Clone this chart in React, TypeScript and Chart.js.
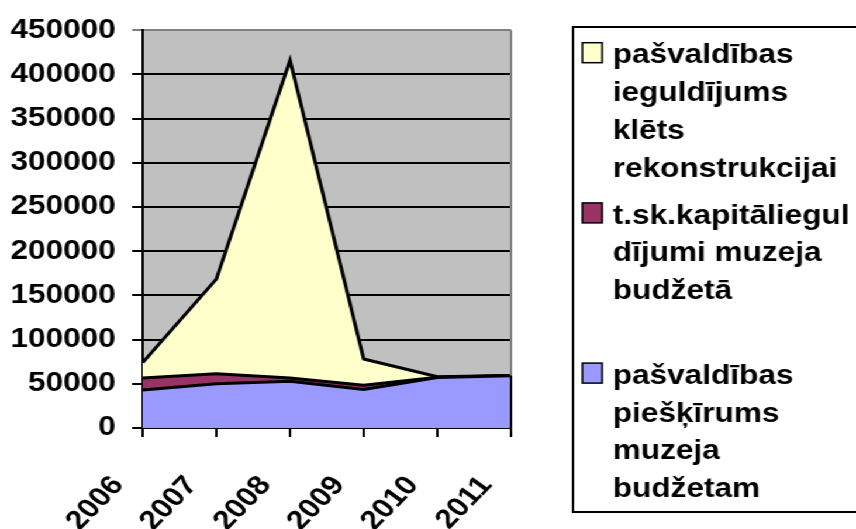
import React, { useEffect, useRef } from 'react';
import { Chart, registerables } from 'chart.js';

Chart.register(...registerables);

// ---- data ----
const years = ['2006', '2007', '2008', '2009', '2010', '2011'];
const municipalAllocation = [43000, 50000, 53000, 43500, 57000, 59000];
const capitalInvestment = [13500, 11500, 3500, 5000, 500, 500];
const barnReconstruction = [17500, 107000, 359500, 29500, 500, 0];
const yMax = 450000;
const yStep = 50000;

const labelAllocation = ['pašvaldības', 'piešķīrums', 'muzeja', 'budžetam'];
const labelCapital = ['t.sk.kapitāliegul', 'dījumi muzeja', 'budžetā', ''];
const labelBarn = ['pašvaldības', 'ieguldījums', 'klēts', 'rekonstrukcijai'];

const colAllocation = '#9999FF';
const colCapital = '#993366';
const colBarn = '#FFFFCC';
const plotBg = '#C0C0C0';

const FONT = '"Liberation Sans", Arial, Helvetica, sans-serif';
const CANVAS_W = 732;
const STRETCH = 856 / CANVAS_W;

const bgPlugin = {
  id: 'plotBg',
  beforeDraw(chart: any) {
    const { ctx, chartArea: a } = chart;
    ctx.save();
    ctx.fillStyle = plotBg;
    ctx.fillRect(a.left, a.top, a.right - a.left, a.bottom - a.top);
    ctx.restore();
  },
  afterDatasetsDraw(chart: any) {
    const { ctx, chartArea: a } = chart;
    const y = chart.scales.y;
    const last = years.length - 1;
    const total = municipalAllocation[last] + capitalInvestment[last] + barnReconstruction[last];
    const yp = y.getPixelForValue(total);
    ctx.save();
    ctx.lineWidth = 2;
    ctx.strokeStyle = '#808080';
    ctx.beginPath();
    ctx.moveTo(a.right, a.top);
    ctx.lineTo(a.right, yp);
    ctx.stroke();
    ctx.strokeStyle = '#000';
    ctx.beginPath();
    ctx.moveTo(a.right, yp);
    ctx.lineTo(a.right, a.bottom);
    ctx.stroke();
    ctx.restore();
  },
};

const legendPlugin = {
  id: 'boxLegend',
  afterDraw(chart: any) {
    const ctx = chart.ctx;
    const items = [
      { lines: labelBarn, color: colBarn },
      { lines: labelCapital, color: colCapital },
      { lines: labelAllocation, color: colAllocation },
    ];
    const boxLeft = 490;
    const boxTop = 27;
    const boxBottom = 512;
    const swX = 498;
    const textX = 524;
    const lineH = 37.8;
    const gap = 9;
    ctx.save();
    ctx.lineWidth = 2;
    ctx.strokeStyle = '#000';
    ctx.strokeRect(boxLeft, boxTop, CANVAS_W + 20 - boxLeft, boxBottom - boxTop);
    ctx.font = `bold 27px ${FONT}`;
    ctx.textBaseline = 'alphabetic';
    ctx.textAlign = 'left';
    let baseline = 63.3;
    for (const it of items) {
      ctx.fillStyle = it.color;
      ctx.fillRect(swX, baseline - 20.6, 17, 20);
      ctx.lineWidth = 1.5;
      ctx.strokeStyle = '#000';
      ctx.strokeRect(swX, baseline - 20.6, 17, 20);
      ctx.fillStyle = '#000';
      it.lines.forEach((ln, i) => {
        if (ln) ctx.fillText(ln, textX, baseline + i * lineH);
      });
      baseline += it.lines.length * lineH + gap;
    }
    ctx.restore();
  },
};

export default function App() {
  const ref = useRef<HTMLCanvasElement | null>(null);
  useEffect(() => {
    if (!ref.current) return;
    Chart.defaults.font.family = FONT;
    const chart = new Chart(ref.current, {
      type: 'line',
      data: {
        labels: years,
        datasets: [
          {
            label: labelAllocation.join(' '),
            data: municipalAllocation,
            backgroundColor: colAllocation,
            borderColor: '#000',
            borderWidth: 3,
            fill: 'origin',
            pointRadius: 0,
            tension: 0,
          },
          {
            label: labelCapital.join(' '),
            data: capitalInvestment,
            backgroundColor: colCapital,
            borderColor: '#000',
            borderWidth: 3,
            fill: '-1',
            pointRadius: 0,
            tension: 0,
          },
          {
            label: labelBarn.join(' '),
            data: barnReconstruction,
            backgroundColor: colBarn,
            borderColor: '#000',
            borderWidth: 3,
            fill: '-1',
            pointRadius: 0,
            tension: 0,
          },
        ],
      },
      options: {
        animation: false,
        responsive: true,
        maintainAspectRatio: false,
        devicePixelRatio: 1,
        layout: { padding: { top: 26, right: 295, left: 0, bottom: 0 } },
        plugins: {
          legend: { display: false },
          tooltip: { enabled: false },
        },
        scales: {
          x: {
            afterFit: (s: any) => { s.height = 101; },
            grid: {
              drawOnChartArea: false,
              drawTicks: true,
              tickLength: 9,
              color: '#000',
              lineWidth: 2,
            },
            border: { color: '#000', width: 2 },
            ticks: {
              color: '#000',
              font: { size: 27, weight: 'bold', family: FONT },
              maxRotation: 50,
              minRotation: 50,
              autoSkip: false,
              padding: 33,
              labelOffset: -21,
            },
          },
          y: {
            stacked: true,
            min: 0,
            max: yMax,
            afterFit: (s: any) => { s.width = 122; },
            grid: {
              color: (c: any) => (c.tick && c.tick.value === yMax ? '#808080' : '#000'),
              lineWidth: 2,
              tickLength: 9,
              drawTicks: true,
            },
            border: { color: '#000', width: 2 },
            ticks: {
              stepSize: yStep,
              color: '#000',
              padding: 14,
              font: { size: 27, weight: 'bold', family: FONT },
              callback: (v: any) => String(v),
            },
          },
        },
      },
      plugins: [bgPlugin, legendPlugin],
    });
    return () => chart.destroy();
  }, []);
  return (
    <div
      style={{
        position: 'absolute',
        left: 0,
        top: 0,
        width: CANVAS_W + 'px',
        height: '529px',
        transform: `scaleX(${STRETCH})`,
        transformOrigin: '0 0',
        background: '#fff',
      }}
    >
      <canvas ref={ref} />
    </div>
  );
}
